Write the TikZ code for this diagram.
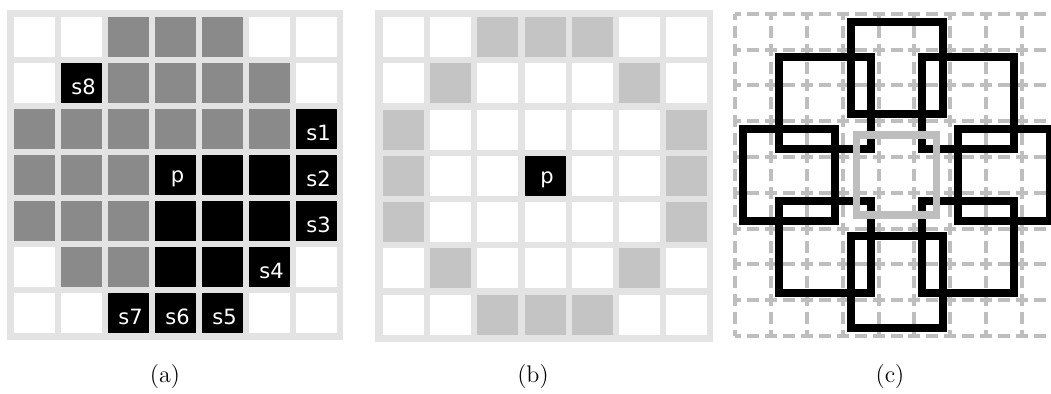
\documentclass[tikz,border=0pt]{standalone}
\usepackage{fontspec}
\newfontfamily\cellfont{DejaVu Sans}
\definecolor{cw}{RGB}{255,255,255}
\definecolor{cg}{RGB}{138,138,138}
\definecolor{ck}{RGB}{0,0,0}
\definecolor{cl}{RGB}{196,196,196}
\definecolor{framegray}{RGB}{227,227,227}
\definecolor{gridgray}{RGB}{190,190,190}

\begin{document}
\begin{tikzpicture}[
  x=0.5pt, y=-0.5pt,
  cell/.style={minimum width=20.5pt, minimum height=20pt, inner sep=0pt, outer sep=0pt},
  lab/.style={text=white, font=\cellfont\fontsize{10.5}{12}\selectfont, inner sep=0pt, xshift=1pt, yshift=-2pt},
  sublabel/.style={font=\fontsize{12}{14}\selectfont},
  gridline/.style={draw=gridgray, line width=2pt, dash pattern=on 6pt off 2.95pt, dash phase=3pt},
  patch/.style={draw=black, line width=4pt},
  centre/.style={draw=gridgray, line width=3.6pt}
]
  \useasboundingbox (0,0) rectangle (1051,394);
  \clip (0,0) rectangle (1051,394);

  % (a) segment test around p
  \fill[framegray] (7,10) rectangle (343,340);
  \foreach \row [count=\j from 0] in {{w,w,g,g,g,w,w},{w,k,g,g,g,g,w},{g,g,g,g,g,g,k},{g,g,g,k,k,k,k},{g,g,g,k,k,k,k},{w,g,g,k,k,k,w},{w,w,k,k,k,w,w}}
    \foreach \c [count=\i from 0] in \row
      \node[cell, fill=c\c] (a-\j-\i) at (34.5+47*\i, 37+46*\j) {};
  \node[lab] (pa) at (a-3-3) {p};
  \node[lab] (s1) at (a-2-6) {s1};
  \node[lab] (s2) at (a-3-6) {s2};
  \node[lab] (s3) at (a-4-6) {s3};
  \node[lab] (s4) at (a-5-5) {s4};
  \node[lab] (s5) at (a-6-4) {s5};
  \node[lab] (s6) at (a-6-3) {s6};
  \node[lab] (s7) at (a-6-2) {s7};
  \node[lab] (s8) at (a-1-1) {s8};

  % (b) circle of 16 pixels
  \fill[framegray] (375,10) rectangle (713,342);
  \foreach \row [count=\j from 0] in {{w,w,l,l,l,w,w},{w,l,w,w,w,l,w},{l,w,w,w,w,w,l},{l,w,w,k,w,w,l},{l,w,w,w,w,w,l},{w,l,w,w,w,l,w},{w,w,l,l,l,w,w}}
    \foreach \c [count=\i from 0] in \row
      \node[cell, fill=c\c] (b-\j-\i) at (403.5+47.2*\i, 37+46.3*\j) {};
  \node[lab] (pb) at (b-3-3) {p};

  % (c) 3x3 patches on the circle
  \begin{scope}[shift={(896.5,175)}, x=17.9pt, y=-17.9pt]
    \foreach \k in {-4.5,-3.5,...,4.5} {
      \draw[gridline] (\k,-4.5) -- (\k,4.5);
      \draw[gridline] (-4.5,\k) -- (4.5,\k);
    }
    \foreach \dx/\dy in {0/-3, -2/-2, 2/-2, -3/0, 3/0, -2/2, 2/2, 0/3}
      \draw[patch] (\dx-1.285,\dy-1.285) rectangle (\dx+1.285,\dy+1.285);
    \draw[centre] (-1.117,-1.117) rectangle (1.117,1.117);
  \end{scope}

  \node[sublabel] (capa) at (165,377) {(a)};
  \node[sublabel] (capb) at (533,377) {(b)};
  \node[sublabel] (capc) at (890,377) {(c)};
\end{tikzpicture}
\end{document}
